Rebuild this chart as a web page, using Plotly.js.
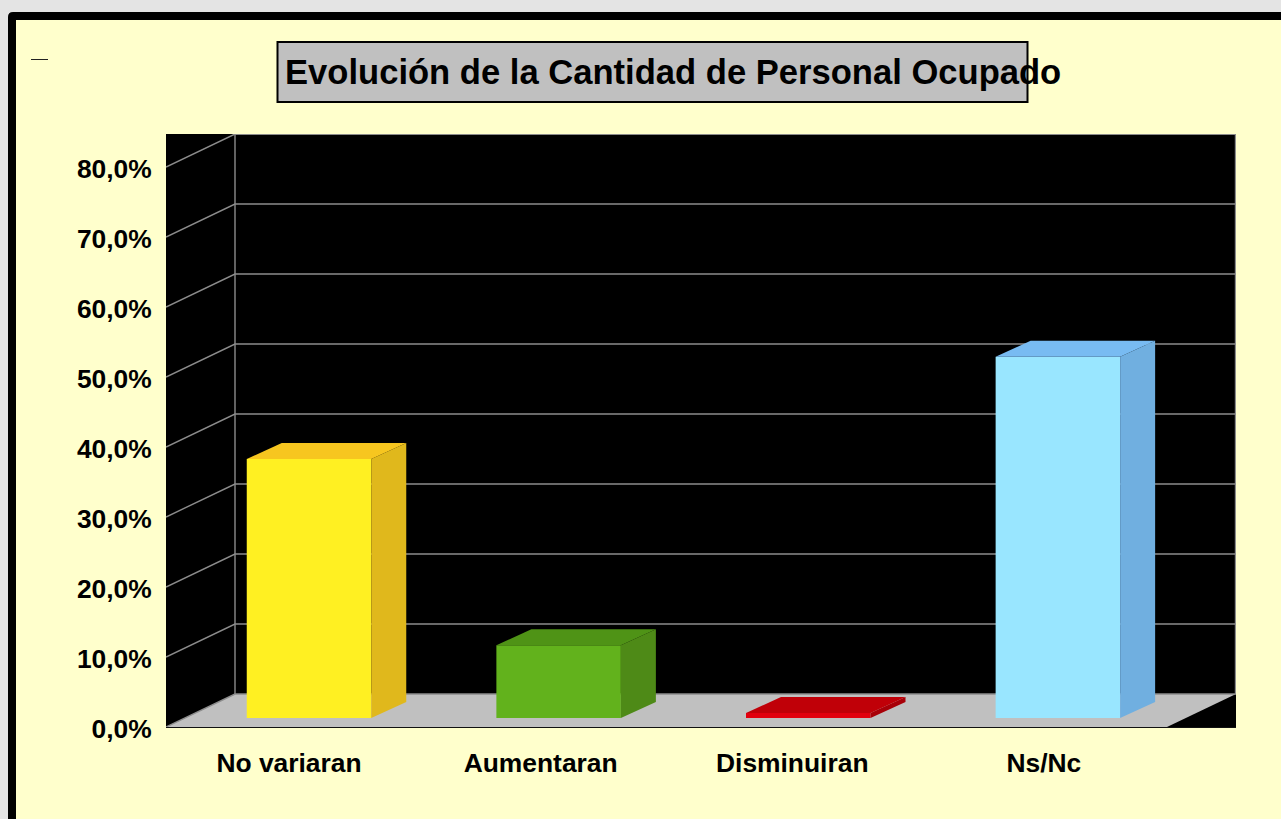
<!DOCTYPE html>
<html>
<head>
<meta charset="utf-8">
<script src="https://cdn.plot.ly/plotly-3.0.1.min.js"></script>
<style>html,body{margin:0;padding:0;overflow:hidden;background:#e4e4e4}#chart{width:1281px;height:819px}</style>
</head>
<body>
<div id="chart"></div>
<script>
const chartTitle = 'Evolución de la Cantidad de Personal Ocupado';
const categories = ['No variaran', 'Aumentaran', 'Disminuiran', 'Ns/Nc'];
const values = [37.0, 10.4, 0.7, 51.6];
const frontColors = ['#FFF022', '#62B21C', '#E2000E', '#99E6FF'];
const sideColors = ['#E0B81C', '#4E8A17', '#A80008', '#70AFE0'];
const topColors = ['#F7C61F', '#4F9316', '#C00008', '#78BBF2'];
const tickVals = [0, 10, 20, 30, 40, 50, 60, 70, 80];
const tickLabels = ['0,0%', '10,0%', '20,0%', '30,0%', '40,0%', '50,0%', '60,0%', '70,0%', '80,0%'];

const W = 1281, H = 819;
const M = {l: 166, r: 45, t: 134, b: 92};
const plotW = W - M.l - M.r, plotH = H - M.t - M.b;
const xRange = [-0.5, 3.78];
const yRange = [0, 84.714];
// depth of the pseudo-3D box, in axis units
const wallDX = 0.276, wallDY = 4.714;
const barShift = 0.072, barStep = 0.9985, barBase = 1.2857, barW = 0.498;
const barDX = 0.14, barDY = 2.286;
const labelStep = 1.0065, labelShift = -0.008;
const GRID = '#8C8C8C', GRID_W = 1.4;

// page pixels to Plotly paper fractions (paper = plot area)
const px = v => (v - M.l) / plotW, py = v => 1 - (v - M.t) / plotH;
const poly = (pts) => 'M' + pts.map(p => p.join(',')).join('L') + 'Z';
const shapes = [];

function roundedFrame(x, y, r) {
  const X = 1300, Y = 840;
  return {type: 'path', xref: 'paper', yref: 'paper', layer: 'below', line: {width: 0},
    path: `M${px(x)},${py(Y)}L${px(x)},${py(y + r)}Q${px(x)},${py(y)} ${px(x + r)},${py(y)}L${px(X)},${py(y)}L${px(X)},${py(Y)}Z`};
}
shapes.push(Object.assign(roundedFrame(8, 12, 5), {fillcolor: '#000000'}));
shapes.push(Object.assign(roundedFrame(16, 20, 0.01), {fillcolor: '#FFFFCC'}));
// small stray dash, top left
shapes.push({type: 'line', xref: 'paper', yref: 'paper', layer: 'above',
  x0: px(31), x1: px(48), y0: py(59.5), y1: py(59.5), line: {color: '#222222', width: 1}});
// title box
shapes.push({type: 'rect', xref: 'paper', yref: 'paper', layer: 'above',
  x0: px(277.5), x1: px(1027.5), y0: py(42), y1: py(102), fillcolor: '#C0C0C0', line: {color: '#000000', width: 2}});

const xL = xRange[0], xR = xRange[1];
const xRFront = xR - wallDX;
// black plot area
shapes.push({type: 'rect', xref: 'x', yref: 'y', layer: 'below', x0: xL, x1: xR, y0: yRange[0], y1: yRange[1],
  fillcolor: '#000000', line: {width: 0}});
// floor
shapes.push({type: 'path', xref: 'x', yref: 'y', layer: 'below', fillcolor: '#C0C0C0', line: {width: 0},
  path: poly([[xL, 0], [xL + wallDX, wallDY], [xR, wallDY], [xRFront, 0]])});
// wall gridlines
tickVals.forEach(v => {
  const yb = v + wallDY;
  shapes.push({type: 'path', xref: 'x', yref: 'y', layer: 'below', line: {color: GRID, width: GRID_W},
    path: `M${xL},${v}L${xL + wallDX},${yb}L${xR},${yb}`});
});
// verticals of the back wall
[xL + wallDX, xR - 0.002].forEach(x => {
  shapes.push({type: 'line', xref: 'x', yref: 'y', layer: 'below', x0: x, x1: x, y0: wallDY, y1: yRange[1],
    line: {color: GRID, width: GRID_W}});
});
shapes.push({type: 'line', xref: 'x', yref: 'y', layer: 'below', x0: xL + wallDX, x1: xR, y0: yRange[1] - 0.07, y1: yRange[1] - 0.07,
  line: {color: GRID, width: 1}});

const barX = categories.map((_, i) => i * barStep + barShift);
const traces = [{
  type: 'bar', x: barX, y: values, base: values.map(() => barBase),
  width: barW, marker: {color: frontColors, line: {width: 0}}, hoverinfo: 'skip', showlegend: false
}];
values.forEach((v, i) => {
  const l = barX[i] - barW / 2, r = barX[i] + barW / 2;
  const b = barBase, t = barBase + v;
  // side face
  traces.push({type: 'scatter', mode: 'lines', fill: 'toself', fillcolor: sideColors[i], line: {width: 0},
    x: [r, r + barDX, r + barDX, r, r], y: [b, b + barDY, t + barDY, t, b], hoverinfo: 'skip', showlegend: false});
  // top face
  traces.push({type: 'scatter', mode: 'lines', fill: 'toself', fillcolor: topColors[i], line: {width: 0},
    x: [l, l + barDX, r + barDX, r, l], y: [t, t + barDY, t + barDY, t, t], hoverinfo: 'skip', showlegend: false});
});

const tickFont = {family: '"Liberation Sans", Arial, sans-serif', size: 26.4, color: '#000000'};
const layout = {
  width: W, height: H, margin: M,
  paper_bgcolor: '#E4E4E4', plot_bgcolor: 'rgba(0,0,0,0)',
  showlegend: false,
  barmode: 'overlay',
  title: {
    text: '<b>' + chartTitle + '</b>',
    font: {family: '"Liberation Sans", Arial, sans-serif', size: 34.6, color: '#000000'},
    xref: 'container', yref: 'container', x: 285 / W, xanchor: 'left', y: 1 - 72 / H, yanchor: 'middle'
  },
  xaxis: {
    type: 'linear', range: xRange, showgrid: false, zeroline: false,
    tickmode: 'array', tickvals: categories.map((_, i) => i * labelStep + labelShift), ticktext: categories.map(c => '<b>' + c + '</b>'),
    ticks: 'outside', ticklen: 12, tickcolor: 'rgba(0,0,0,0)', tickfont: tickFont,
    showline: true, linecolor: '#111111', linewidth: 1
  },
  yaxis: {
    type: 'linear', range: yRange, showgrid: false, zeroline: false,
    tickmode: 'array', tickvals: tickVals, ticktext: tickLabels.map(t => '<b>' + t + '</b>'),
    ticks: 'outside', ticklen: 8, tickcolor: 'rgba(0,0,0,0)', tickfont: tickFont, showline: false,
    ticklabelshift: 2
  },
  shapes: shapes
};
Plotly.newPlot('chart', traces, layout, {displayModeBar: false, responsive: false});
</script>
</body>
</html>
